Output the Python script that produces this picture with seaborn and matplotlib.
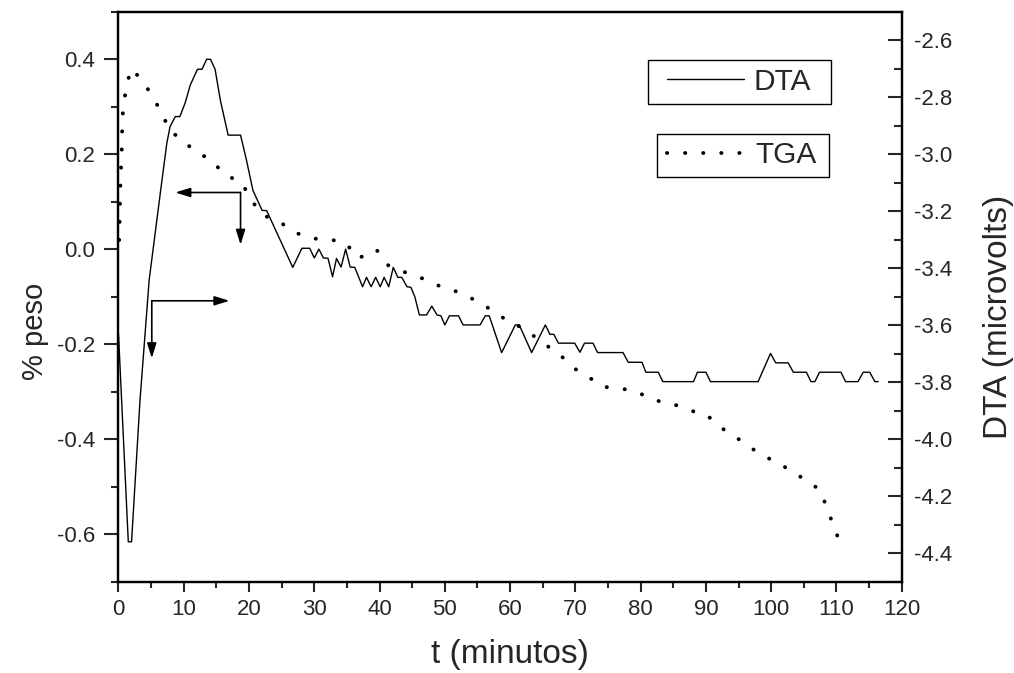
import matplotlib
matplotlib.use("Agg")
import matplotlib.pyplot as plt
import seaborn as sns
import pandas as pd
from matplotlib.patches import Rectangle
from matplotlib.ticker import MultipleLocator, FuncFormatter

# ---------------- data ----------------
# DTA (right axis, microvolts)
dta_t = [0.0, 1.5, 2.0, 3.3, 4.7, 6.6, 7.4, 7.9, 8.7, 9.4,
         10.2, 11.0, 12.1, 12.8, 13.5, 14.1, 14.8, 15.6, 16.8, 18.7,
         19.6, 20.6, 22.0, 22.7, 26.7, 28.1, 29.3, 30.0, 30.7, 31.4,
         32.1, 32.8, 33.4, 34.1, 34.8, 35.5, 36.2, 37.4, 38.0, 38.7,
         39.4, 40.1, 40.7, 41.4, 42.1, 42.8, 43.4, 44.2, 44.8, 45.4,
         46.1, 47.2, 48.0, 48.8, 49.4, 50.0, 50.7, 52.1, 52.8, 55.4,
         56.2, 56.8, 57.7, 58.7, 60.8, 61.4, 63.3, 65.4, 66.1, 66.7,
         67.4, 69.9, 70.7, 71.4, 72.7, 73.4, 77.3, 78.1, 80.2, 80.8,
         82.7, 83.4, 88.1, 88.7, 90.0, 90.7, 98.0, 99.9, 100.7, 102.6,
         103.4, 105.4, 106.1, 106.7, 107.4, 110.7, 111.4, 113.3, 114.1, 115.1,
         115.9, 116.4]
dta_v = [-3.630, -4.359, -4.359, -3.861, -3.440, -3.101, -2.961, -2.902, -2.867, -2.867,
         -2.820, -2.756, -2.701, -2.701, -2.666, -2.666, -2.701, -2.809, -2.932, -2.932,
         -3.019, -3.126, -3.196, -3.197, -3.396, -3.329, -3.329, -3.363, -3.332, -3.363,
         -3.364, -3.429, -3.365, -3.395, -3.332, -3.395, -3.396, -3.464, -3.431, -3.464,
         -3.431, -3.464, -3.431, -3.464, -3.396, -3.431, -3.431, -3.464, -3.466, -3.499,
         -3.563, -3.563, -3.532, -3.563, -3.566, -3.598, -3.566, -3.566, -3.598, -3.598,
         -3.566, -3.566, -3.627, -3.695, -3.598, -3.598, -3.695, -3.598, -3.631, -3.631,
         -3.662, -3.662, -3.694, -3.662, -3.662, -3.695, -3.695, -3.729, -3.729, -3.764,
         -3.764, -3.797, -3.797, -3.764, -3.764, -3.797, -3.797, -3.698, -3.731, -3.731,
         -3.764, -3.764, -3.797, -3.797, -3.764, -3.764, -3.797, -3.797, -3.764, -3.764,
         -3.797, -3.797]

# TGA (left axis, % peso)
tga_t = [0.1, 0.2, 0.3, 0.5, 0.6, 0.9, 1.3, 2.0, 3.9, 5.4,
         6.8, 7.8, 9.7, 11.6, 14.2, 16.2, 18.9, 20.2, 22.0, 24.7,
         27.0, 29.6, 32.1, 34.8, 36.7, 39.5, 41.3, 44.1, 46.8, 49.2,
         51.9, 54.4, 57.0, 59.7, 62.5, 64.9, 67.3, 69.4, 71.8, 74.1,
         76.9, 79.6, 82.0, 84.9, 87.6, 90.1, 92.2, 95.2, 97.8, 100.6,
         102.9, 105.2, 107.5, 110.2]
tga_v = [0.020, 0.073, 0.142, 0.209, 0.279, 0.315, 0.350, 0.381, 0.351, 0.317,
         0.284, 0.249, 0.233, 0.207, 0.189, 0.158, 0.141, 0.107, 0.073, 0.058,
         0.036, 0.023, 0.022, 0.014, -0.019, 0.000, -0.033, -0.049, -0.062, -0.077,
         -0.089, -0.105, -0.126, -0.151, -0.169, -0.197, -0.216, -0.247, -0.266, -0.289,
         -0.292, -0.301, -0.317, -0.325, -0.339, -0.348, -0.374, -0.401, -0.426, -0.447,
         -0.464, -0.485, -0.506, -0.605]

# annotation arrows (left-axis data coords): corner, horizontal tip, vertical tip
arrow1_corner = (18.7, 0.120)
arrow1_htip = (8.7, 0.120)
arrow1_vtip = (18.7, 0.010)
arrow2_corner = (5.1, -0.108)
arrow2_htip = (17.0, -0.108)
arrow2_vtip = (5.1, -0.229)

x_ticks = list(range(0, 121, 10))
left_ticks = [-0.6, -0.4, -0.2, 0.0, 0.2, 0.4]
right_ticks = [-4.4, -4.2, -4.0, -3.8, -3.6, -3.4, -3.2, -3.0, -2.8, -2.6]

# ---------------- style ----------------
sns.set_style("ticks")
plt.rcParams["font.family"] = ["Liberation Sans", "DejaVu Sans"]
plt.rcParams["axes.unicode_minus"] = False

fig = plt.figure(figsize=(10.14, 6.73), dpi=100)
ax = fig.add_axes([0.11686, 0.13522, 0.77239, 0.84695])
ax2 = ax.twinx()

df_tga = pd.DataFrame({"t": tga_t, "v": tga_v})
df_dta = pd.DataFrame({"t": dta_t, "v": dta_v})

sns.lineplot(data=df_tga, x="t", y="v", ax=ax, color="black", linewidth=2.8,
             linestyle=(0, (0.05, 4.6)), dash_capstyle="round", sort=False,
             estimator=None)
sns.lineplot(data=df_dta, x="t", y="v", ax=ax2, color="black", linewidth=1.0,
             sort=False, estimator=None)

ax.set_xlim(0, 120)
ax.set_ylim(-0.7, 0.5)
ax2.set_ylim(-4.5, -2.5)

ax.set_xticks(x_ticks)
ax.xaxis.set_minor_locator(MultipleLocator(5))
ax.set_yticks(left_ticks)
ax.yaxis.set_minor_locator(MultipleLocator(0.1))
ax2.set_yticks(right_ticks)
ax2.yaxis.set_minor_locator(MultipleLocator(0.1))

fmt = FuncFormatter(lambda v, p: f"{0.0 if abs(v) < 1e-9 else v:.1f}")
ax.yaxis.set_major_formatter(fmt)
ax2.yaxis.set_major_formatter(fmt)

for a in (ax, ax2):
    for s in a.spines.values():
        s.set_linewidth(1.6)
        s.set_color("black")

ax.tick_params(axis="x", which="major", direction="out", length=7, width=1.5,
               labelsize=16, pad=5, top=False)
ax.tick_params(axis="x", which="minor", direction="out", length=4, width=1.5, top=False)
ax.tick_params(axis="y", which="major", direction="out", length=10, width=1.5,
               labelsize=16, pad=7, right=False)
ax.tick_params(axis="y", which="minor", direction="out", length=5, width=1.5, right=False)
ax2.tick_params(axis="y", which="major", direction="in", length=10, width=1.5,
                labelsize=16, pad=9)
ax2.tick_params(axis="y", which="minor", direction="in", length=5.5, width=1.5)

ax.set_xlabel("t (minutos)", fontsize=24, va="center")
ax.xaxis.set_label_coords(0.5, -0.128)
ax.set_ylabel("% peso", fontsize=21, va="center")
ax.yaxis.set_label_coords(-0.1066, 0.44)
ax2.set_ylabel("DTA (microvolts)", fontsize=24, va="center", rotation=90)
ax2.yaxis.set_label_coords(1.1230, 0.465)

# arrows
for corner, htip, vtip in [(arrow1_corner, arrow1_htip, arrow1_vtip),
                           (arrow2_corner, arrow2_htip, arrow2_vtip)]:
    for tip in (htip, vtip):
        ax.annotate("", xy=tip, xytext=corner,
                    arrowprops=dict(arrowstyle="-|>,head_length=0.9,head_width=0.28",
                                    color="black", lw=1.2, shrinkA=0, shrinkB=0,
                                    mutation_scale=10))

# legends: two separate boxes
dta_line = ax2.get_lines()[0]
tga_line = ax.get_lines()[0]
leg1 = fig.legend(handles=[dta_line], labels=["DTA"], loc="center left",
                  bbox_to_anchor=(0.6575, 0.8786), frameon=False, fontsize=21.5,
                  borderpad=0, borderaxespad=0, handlelength=2.6, handletextpad=0.31)
leg2 = fig.legend(handles=[tga_line], labels=["TGA"], loc="center left",
                  bbox_to_anchor=(0.6578, 0.7697), frameon=False, fontsize=21.5,
                  borderpad=0, borderaxespad=0, handlelength=2.6, handletextpad=0.36)
fig.add_artist(Rectangle((648.3 / 1014, 1 - 104.3 / 673), 182.4 / 1014, 44.3 / 673,
                         transform=fig.transFigure, fill=False, lw=1.0, ec="black"))
fig.add_artist(Rectangle((657.3 / 1014, 1 - 176.7 / 673), 172.0 / 1014, 42.4 / 673,
                         transform=fig.transFigure, fill=False, lw=1.0, ec="black"))

fig.savefig("out.png", dpi=100)
